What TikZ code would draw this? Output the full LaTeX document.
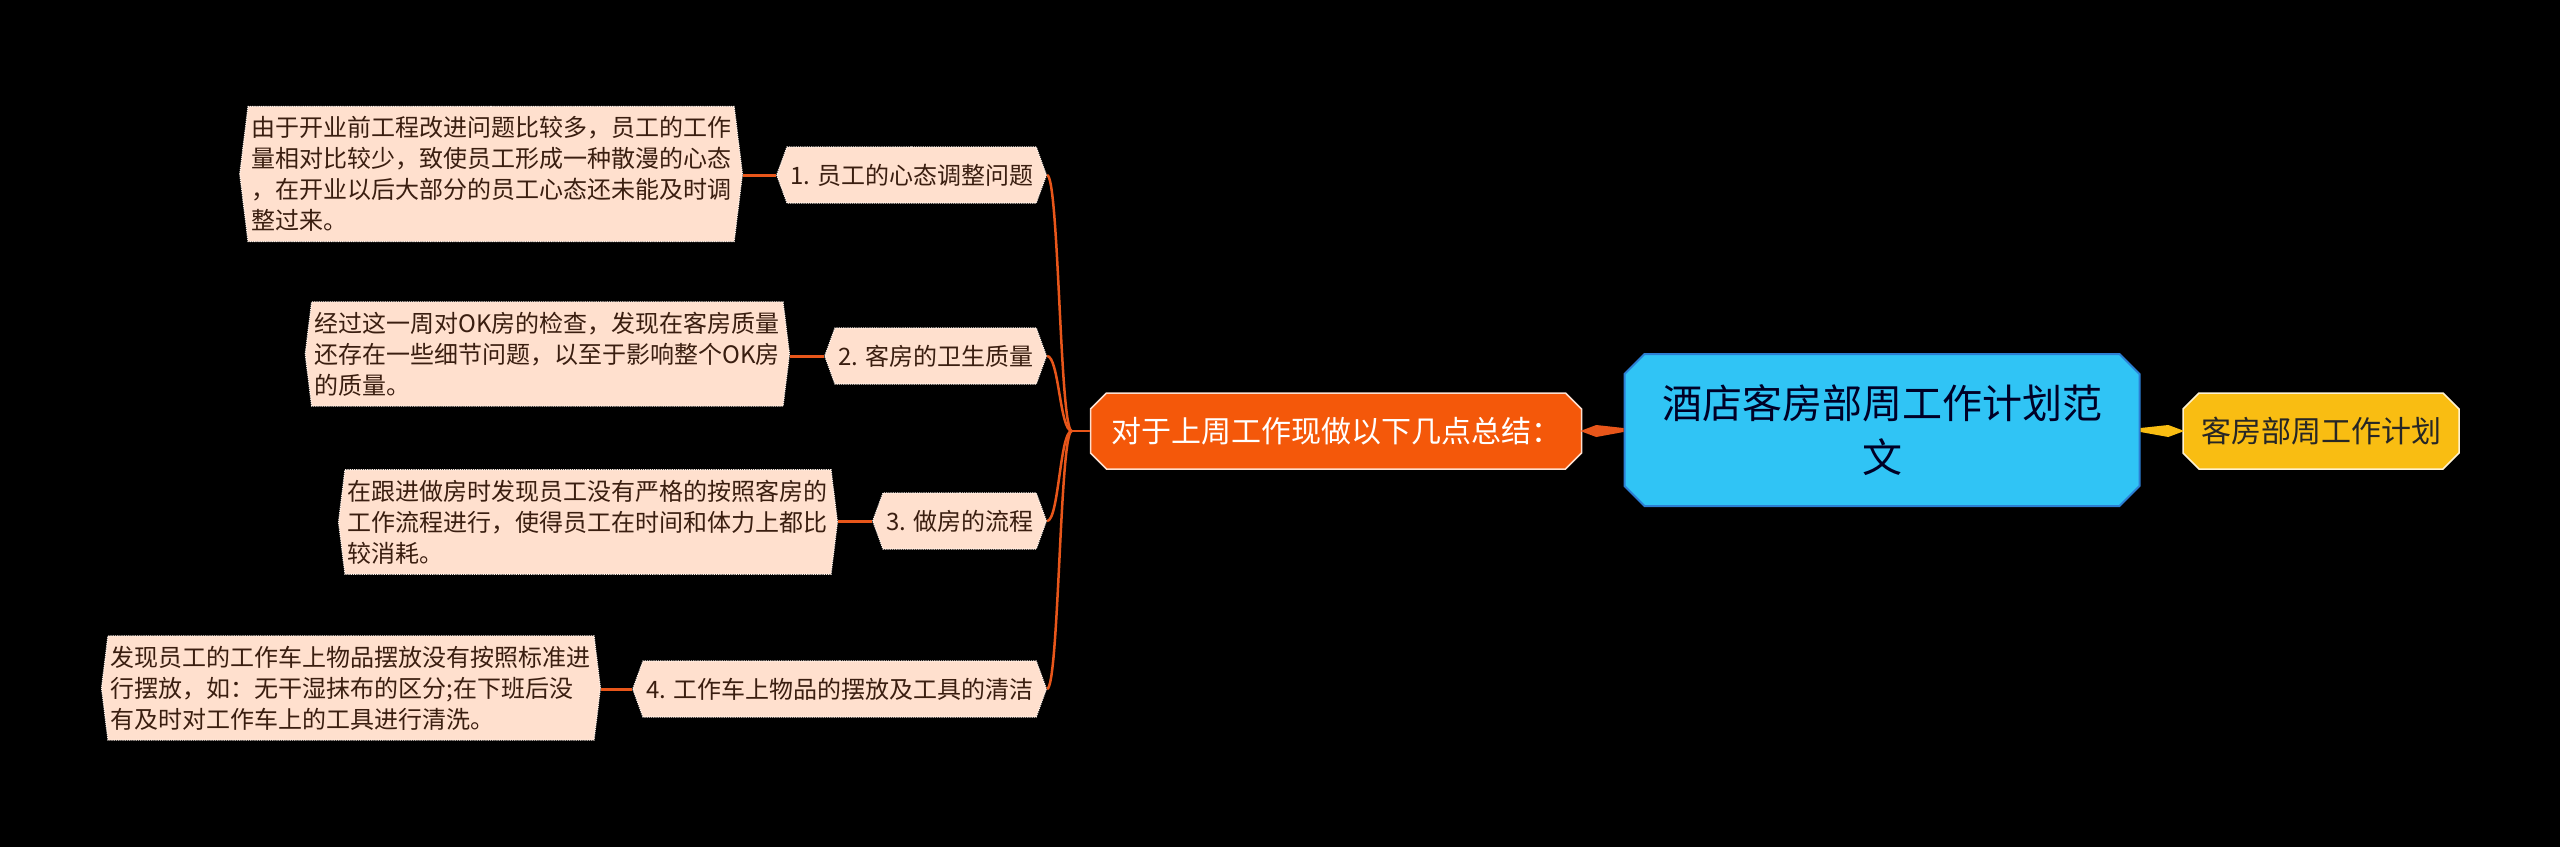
\documentclass[tikz,border=0pt]{standalone}
\usepackage{fontspec}
\setmainfont{Noto Sans CJK SC}
\usetikzlibrary{shapes.misc,shapes.symbols,calc}
\definecolor{peach}{HTML}{FFE0CE}
\definecolor{peachline}{HTML}{FFF4EC}
\definecolor{txt}{HTML}{3A1E10}
\definecolor{conn}{HTML}{E8561A}
\definecolor{mainfill}{HTML}{F4580A}
\definecolor{bluefill}{HTML}{30C4F5}
\definecolor{blueline}{HTML}{2C7FD4}
\definecolor{yellowfill}{HTML}{F9BD12}
\begin{document}
\begin{tikzpicture}[x=1pt,y=-1pt,
  detail/.style={signal, signal to=west and east, signal pointer angle=166,
    fill=peach, draw=peachline, densely dotted, line width=1.2pt, text=txt,
    font=\fontsize{24}{31}\selectfont, align=left, inner xsep=3pt, inner ysep=10pt, anchor=east},
  child/.style={signal, signal to=west and east, signal pointer angle=140,
    fill=peach, draw=peachline, densely dotted, line width=1.2pt, text=txt,
    font=\fontsize{24}{30}\selectfont, inner xsep=3pt, minimum height=56pt, anchor=east},
  topic/.style={chamfered rectangle, chamfered rectangle xsep=8pt, chamfered rectangle ysep=8pt,
    line width=1.5pt, font=\fontsize{30}{36}\selectfont, minimum height=76pt, inner xsep=2pt},
  link/.style={draw=conn, line width=3pt},
  branch/.style={draw=conn, line width=2.5pt}
]
\fill[black] (0,0) rectangle (2560,847);

% central topic
\node[chamfered rectangle, chamfered rectangle xsep=10pt, chamfered rectangle ysep=10pt,
  fill=bluefill, draw=blueline, line width=2pt, text=black!85!blue, align=center,
  font=\fontsize{40}{54}\selectfont, minimum width=515pt, minimum height=152pt]
  (center) at (1882,430) {酒店客房部周工作计划范\\文};

\node[topic, fill=mainfill, draw=white!80!mainfill, text=white, minimum width=491pt]
  (main) at (1336,431) {对于上周工作现做以下几点总结：};
\node[topic, fill=yellowfill, draw=white!80!yellowfill, text=black!85, minimum width=276pt]
  (yel) at (2321,431) {客房部周工作计划};

% children
\node[child] (n1) at (1047,175) {1. 员工的心态调整问题};
\node[child] (n2) at (1047,356) {2. 客房的卫生质量};
\node[child] (n3) at (1047,521) {3. 做房的流程};
\node[child] (n4) at (1047,689) {4. 工作车上物品的摆放及工具的清洁};

% details
\node[detail] (d1) at (743,174) {由于开业前工程改进问题比较多，员工的工作\\量相对比较少，致使员工形成一种散漫的心态\\，在开业以后大部分的员工心态还未能及时调\\整过来。};
\node[detail] (d2) at (790,354) {经过这一周对OK房的检查，发现在客房质量\\还存在一些细节问题，以至于影响整个OK房\\的质量。};
\node[detail] (d3) at (838,522) {在跟进做房时发现员工没有严格的按照客房的\\工作流程进行，使得员工在时间和体力上都比\\较消耗。};
\node[detail] (d4) at (601,688) {发现员工的工作车上物品摆放没有按照标准进\\行摆放，如：无干湿抹布的区分;在下班后没\\有及时对工作车上的工具进行清洗。};

% tapered connectors
\fill[conn] ($(main.east)+(-2,0)$) -- ($(main.east)+(14,-6)$) -- ($(center.west)+(0,-2)$)
  -- ($(center.west)+(0,2)$) -- ($(main.east)+(14,6)$) -- cycle;
\fill[yellowfill] ($(center.west)!0!(center.west)$) ($(center.east)+(0,-2)$) -- ($(yel.west)+(-14,-6)$)
  -- ($(yel.west)+(2,0)$) -- ($(yel.west)+(-14,6)$) -- ($(center.east)+(0,2)$) -- cycle;

% branches
\coordinate (hub) at ($(main.west)+(-18,0)$);
\draw[branch] (main.west) -- (hub);
\draw[branch] (hub) .. controls ($(hub)+(-12,0)$) and ($(n1.east)+(12,0)$) .. (n1.east);
\draw[branch] (hub) .. controls ($(hub)+(-12,0)$) and ($(n2.east)+(12,0)$) .. (n2.east);
\draw[branch] (hub) .. controls ($(hub)+(-12,0)$) and ($(n3.east)+(12,0)$) .. (n3.east);
\draw[branch] (hub) .. controls ($(hub)+(-12,0)$) and ($(n4.east)+(12,0)$) .. (n4.east);

% detail links
\draw[link] (n1.west) -- (d1.east |- n1.west);
\draw[link] (n2.west) -- (d2.east |- n2.west);
\draw[link] (n3.west) -- (d3.east |- n3.west);
\draw[link] (n4.west) -- (d4.east |- n4.west);
\end{tikzpicture}
\end{document}
